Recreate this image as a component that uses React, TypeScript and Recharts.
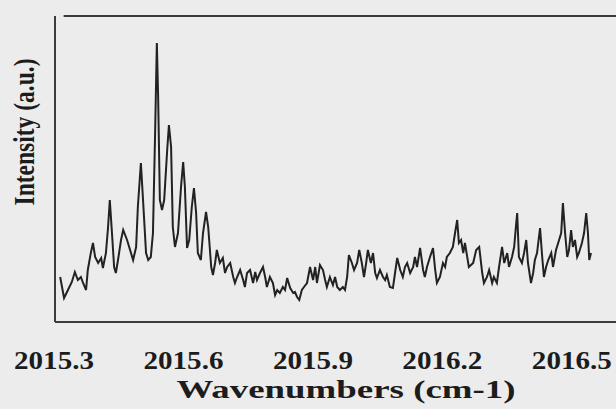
import { LineChart, Line, XAxis, YAxis, ReferenceLine, Label } from "recharts";

// wavenumber (cm-1) and intensity (a.u.)
const wavenumbers = [
  2015.312, 2015.321, 2015.330, 2015.339, 2015.346, 2015.353, 2015.360, 2015.365, 2015.372, 2015.376,
  2015.383, 2015.388, 2015.393, 2015.400, 2015.407, 2015.411, 2015.418, 2015.423, 2015.427, 2015.432,
  2015.437, 2015.441, 2015.446, 2015.453, 2015.458, 2015.467, 2015.474, 2015.481, 2015.488, 2015.492,
  2015.499, 2015.504, 2015.511, 2015.516, 2015.522, 2015.527, 2015.532, 2015.536, 2015.539, 2015.543,
  2015.548, 2015.553, 2015.560, 2015.564, 2015.569, 2015.573, 2015.578, 2015.585, 2015.592, 2015.597,
  2015.601, 2015.606, 2015.611, 2015.617, 2015.622, 2015.627, 2015.631, 2015.638, 2015.643, 2015.650,
  2015.655, 2015.662, 2015.666, 2015.671, 2015.675, 2015.682, 2015.689, 2015.694, 2015.699, 2015.706,
  2015.713, 2015.717, 2015.722, 2015.729, 2015.736, 2015.740, 2015.745, 2015.752, 2015.759, 2015.764,
  2015.768, 2015.775, 2015.782, 2015.787, 2015.791, 2015.798, 2015.805, 2015.810, 2015.815, 2015.821,
  2015.828, 2015.833, 2015.838, 2015.845, 2015.852, 2015.856, 2015.861, 2015.866, 2015.872, 2015.877,
  2015.884, 2015.891, 2015.898, 2015.903, 2015.907, 2015.914, 2015.921, 2015.926, 2015.930, 2015.937,
  2015.944, 2015.949, 2015.954, 2015.960, 2015.967, 2015.972, 2015.977, 2015.981, 2015.988, 2015.993,
  2016.000, 2016.005, 2016.011, 2016.016, 2016.021, 2016.025, 2016.032, 2016.037, 2016.042, 2016.046,
  2016.053, 2016.060, 2016.065, 2016.069, 2016.076, 2016.083, 2016.088, 2016.093, 2016.100, 2016.106,
  2016.111, 2016.116, 2016.123, 2016.130, 2016.134, 2016.139, 2016.146, 2016.153, 2016.157, 2016.162,
  2016.169, 2016.176, 2016.181, 2016.185, 2016.192, 2016.199, 2016.204, 2016.208, 2016.215, 2016.222,
  2016.227, 2016.232, 2016.236, 2016.241, 2016.246, 2016.250, 2016.259, 2016.269, 2016.276, 2016.283,
  2016.290, 2016.294, 2016.301, 2016.306, 2016.313, 2016.317, 2016.324, 2016.329, 2016.336, 2016.341,
  2016.348, 2016.352, 2016.359, 2016.364, 2016.368, 2016.371, 2016.375, 2016.382, 2016.387, 2016.392,
  2016.396, 2016.403, 2016.408, 2016.412, 2016.417, 2016.424, 2016.429, 2016.433, 2016.438, 2016.443,
  2016.450, 2016.454, 2016.461, 2016.466, 2016.473, 2016.477, 2016.482, 2016.487, 2016.491, 2016.496,
  2016.500, 2016.505, 2016.510, 2016.514, 2016.521, 2016.526, 2016.531, 2016.535, 2016.538, 2016.542,
];

const intensity = [
  45, 24, 32, 40, 50, 42, 45, 39, 32, 52,
  69, 79, 65, 59, 64, 54, 69, 95, 122, 89,
  55, 49, 62, 82, 92, 82, 72, 62, 75, 115,
  159, 122, 69, 62, 65, 89, 189, 279, 225, 122,
  112, 122, 172, 197, 175, 95, 75, 89, 135, 160,
  135, 74, 82, 115, 134, 109, 69, 62, 89, 110,
  95, 55, 47, 59, 72, 59, 64, 49, 55, 59,
  45, 39, 45, 52, 42, 35, 49, 52, 39, 50,
  42, 49, 55, 45, 35, 45, 39, 27, 32, 29,
  35, 32, 44, 34, 29, 30, 25, 22, 32, 35,
  39, 55, 42, 55, 39, 57, 52, 42, 35, 45,
  37, 45, 35, 32, 35, 32, 45, 67, 59, 52,
  59, 72, 59, 45, 59, 72, 59, 69, 49, 44,
  52, 45, 42, 47, 35, 34, 49, 64, 52, 45,
  55, 59, 49, 55, 65, 55, 74, 52, 45, 55,
  65, 74, 52, 39, 45, 59, 55, 65, 69, 75,
  89, 102, 79, 82, 69, 79, 55, 59, 72, 75,
  49, 39, 45, 52, 39, 45, 39, 55, 75, 59,
  69, 55, 65, 75, 95, 109, 65, 59, 69, 82,
  59, 39, 49, 62, 69, 94, 65, 45, 55, 62,
  69, 55, 72, 79, 89, 119, 89, 65, 72, 92,
  75, 82, 65, 69, 79, 89, 109, 89, 62, 69,
];

const xTicks = [2015.3, 2015.6, 2015.9, 2016.2, 2016.5];
const yTicks = [75, 114, 152, 267];

const data = wavenumbers.map((w, i) => ({ w, v: intensity[i] }));

const FONT = "Liberation Serif";
const INK = "#1c1c1c";

const XTick = ({ x, payload }: any) => (
  <text
    x={x - 1}
    y={369}
    textAnchor="middle"
    style={{ fontFamily: FONT, fontWeight: 700, fontSize: 25 }}
    fill={INK}
    textLength={80}
    lengthAdjust="spacingAndGlyphs"
  >
    {Number(payload.value).toFixed(1)}
  </text>
);

export default function App() {
  return (
    <div style={{ position: "fixed", left: 0, top: 0, width: 616, height: 409, background: "#ececec" }}>
      <LineChart width={616} height={409} data={data} margin={{ top: 16, right: 0, bottom: 0, left: 0 }}>
        <XAxis
          dataKey="w"
          type="number"
          domain={[2015.3, 2016.6]}
          ticks={xTicks}
          allowDataOverflow
          tick={<XTick />}
          tickLine={false}
          axisLine={{ stroke: "#3c3c3c", strokeWidth: 2 }}
          height={87}
        >
          <Label
            content={() => (
              <text
                x={346}
                y={398}
                textAnchor="middle"
                style={{ fontFamily: FONT, fontWeight: 700, fontSize: 26 }}
                fill={INK}
                textLength={339}
                lengthAdjust="spacingAndGlyphs"
              >
                Wavenumbers (cm-1)
              </text>
            )}
          />
        </XAxis>
        <YAxis
          type="number"
          domain={[0, 306]}
          ticks={yTicks}
          width={55}
          tick={false}
          tickSize={4}
          tickLine={{ stroke: "#9a9a9a" }}
          axisLine={{ stroke: "#3c3c3c", strokeWidth: 2 }}
        >
          <Label
            content={() => (
              <text
                x={34}
                y={132}
                transform="rotate(-90 34 132)"
                textAnchor="middle"
                style={{ fontFamily: FONT, fontWeight: 700, fontSize: 30 }}
                fill={INK}
                textLength={147}
                lengthAdjust="spacingAndGlyphs"
              >
                Intensity (a.u.)
              </text>
            )}
          />
        </YAxis>
        <ReferenceLine
          segment={[{ x: 2015.32, y: 306 }, { x: 2016.6, y: 306 }]}
          stroke="#3c3c3c"
          strokeWidth={2}
        />
        <Line
          type="linear"
          dataKey="v"
          stroke="#222222"
          strokeWidth={2}
          dot={false}
          isAnimationActive={false}
        />
      </LineChart>
    </div>
  );
}
